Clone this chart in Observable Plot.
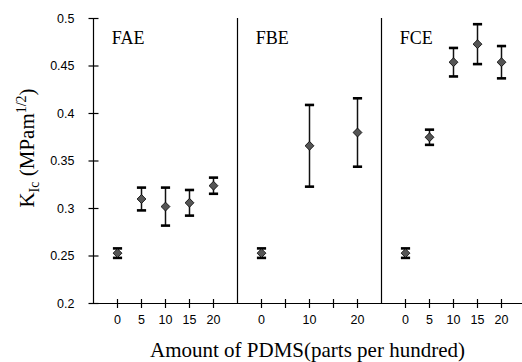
<!DOCTYPE html>
<html><head><meta charset="utf-8">
<script src="https://cdn.jsdelivr.net/npm/d3@7"></script>
<script src="https://cdn.jsdelivr.net/npm/@observablehq/plot@0.6"></script>
<style>
body{margin:0;background:#fff}
#chart svg{display:block}
#xtitle{width:429px;padding-left:93px;height:24px;line-height:24px;text-align:center;font-family:'Liberation Serif';font-size:21px;color:#000;white-space:nowrap}
</style>
</head><body><div id="chart"></div><div id="xtitle"></div>
<script>
const groups = ["FAE", "FBE", "FCE"];
const faeLoading = [0, 5, 10, 15, 20];
const faeKIc = [0.253, 0.310, 0.302, 0.306, 0.324];
const faeErr = [0.005, 0.012, 0.020, 0.0135, 0.0085];
const fbeLoading = [0, 10, 20];
const fbeKIc = [0.253, 0.366, 0.380];
const fbeErr = [0.005, 0.043, 0.036];
const fceLoading = [0, 5, 10, 15, 20];
const fceKIc = [0.253, 0.375, 0.454, 0.473, 0.454];
const fceErr = [0.005, 0.008, 0.015, 0.021, 0.017];
const yTicks = [0.2, 0.25, 0.3, 0.35, 0.4, 0.45, 0.5];
const xTickLoadings = [0, 5, 10, 15, 20];
const xTickLabels = [["0","5","10","15","20"], ["0","","10","","20"], ["0","5","10","15","20"]];
const xTitle = "Amount of PDMS(parts per hundred)";

const serif = "Liberation Serif";
const sans = "Liberation Sans";

document.getElementById("xtitle").textContent = xTitle;

// position of a loading within its group panel
const pos = (g, loading) => g * 6 + 1 + loading / 5;

const series = [
  [faeLoading, faeKIc, faeErr],
  [fbeLoading, fbeKIc, fbeErr],
  [fceLoading, fceKIc, fceErr]
];
const data = series.flatMap(([L, M, E], g) => L.map((l, i) => ({pos: pos(g, l), m: M[i], e: E[i]})));
const xTicks = groups.flatMap((g, gi) => xTickLoadings.map((l, i) => ({pos: pos(gi, l), label: xTickLabels[gi][i]})));
const separators = groups.slice(1).map((g, i) => (i + 1) * 6);

const hTick = {draw(ctx, size) { const l = Math.sqrt(size / Math.PI); ctx.moveTo(-l, 0); ctx.lineTo(l, 0); }};
const vTick = {draw(ctx, size) { const l = Math.sqrt(size / Math.PI); ctx.moveTo(0, -l); ctx.lineTo(0, l); }};

const chart = Plot.plot({
  width: 522,
  height: 338,
  marginLeft: 93,
  marginRight: 0,
  marginTop: 18,
  marginBottom: 35,
  x: {domain: [0, 17.875], axis: null},
  y: {domain: [0.2, 0.5], axis: null},
  marks: [
    Plot.ruleY([0.2], {stroke: "black", strokeWidth: 1.2}),
    Plot.ruleX([0], {y1: 0.2, y2: 0.5, stroke: "black", strokeWidth: 1.2}),
    Plot.ruleX(separators, {y1: 0.2, y2: 0.5, stroke: "black", strokeWidth: 1.2}),
    Plot.dot(yTicks, {x: 0, y: d => d, symbol: hTick, r: 5, fill: "none", stroke: "black", strokeWidth: 1.2}),
    Plot.text(yTicks, {x: 0, y: d => d, text: d => String(d), textAnchor: "end", dx: -19, fontSize: 12.5, fontFamily: sans, fill: "black"}),
    Plot.dot(xTicks, {x: "pos", y: 0.2, symbol: vTick, r: 4.5, fill: "none", stroke: "black", strokeWidth: 1.2}),
    Plot.text(xTicks, {x: "pos", frameAnchor: "bottom", text: "label", dy: 20, fontSize: 12.5, fontFamily: sans, fill: "black"}),
    Plot.text(groups, {x: (d, i) => i * 6 + 0.76, frameAnchor: "top", dy: 13, text: d => d, textAnchor: "start", fontSize: 18, fontFamily: serif, fill: "black"}),
    Plot.ruleX(data, {x: "pos", y1: d => d.m - d.e, y2: d => d.m + d.e, stroke: "#111", strokeWidth: 1.5}),
    Plot.dot(data, {x: "pos", y: d => d.m + d.e, symbol: hTick, r: 4.6, fill: "none", stroke: "black", strokeWidth: 2.6}),
    Plot.dot(data, {x: "pos", y: d => d.m - d.e, symbol: hTick, r: 4.6, fill: "none", stroke: "black", strokeWidth: 2.6}),
    Plot.dot(data, {x: "pos", y: "m", symbol: "diamond2", r: 4, fill: "#555", stroke: "black", strokeWidth: 0.8})
  ]
});

// y axis label with subscript and superscript
const svg = d3.select(chart);
const lab = svg.append("text")
  .attr("transform", "translate(27,148) rotate(-90)")
  .attr("text-anchor", "middle")
  .attr("font-family", serif)
  .attr("font-size", 21)
  .attr("fill", "black");
lab.append("tspan").attr("dy", 7).text("K");
lab.append("tspan").attr("font-size", 14).attr("dy", 5).text("Ic");
lab.append("tspan").attr("dy", -5).text(" (MPam");
lab.append("tspan").attr("font-size", 14).attr("dy", -8).text("1/2");
lab.append("tspan").attr("dy", 8).text(")");

// force each text's intended family inline so nothing overrides it
svg.selectAll("text").each(function() {
  const host = this.hasAttribute("font-family") ? this : this.parentNode;
  const fam = host.getAttribute("font-family");
  if (fam && fam.indexOf("Liberation") === 0) {
    this.style.setProperty("font-family", "'" + fam + "'", "important");
    d3.select(this).selectAll("tspan").each(function() { this.style.setProperty("font-family", "'" + fam + "'", "important"); });
  }
});

document.getElementById("chart").appendChild(chart);
</script>
</body></html>
